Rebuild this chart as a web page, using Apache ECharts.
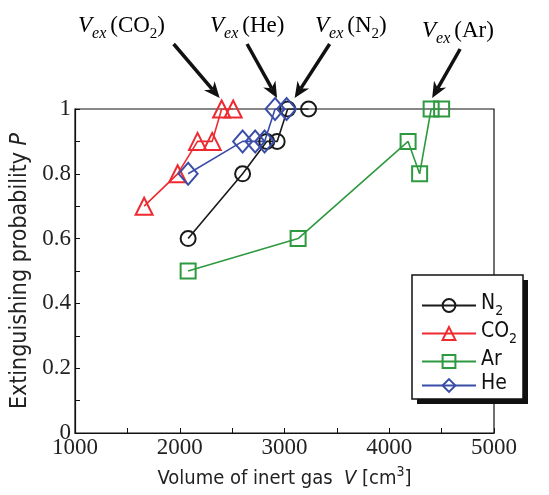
<!DOCTYPE html>
<html><head><meta charset="utf-8">
<script src="https://cdn.jsdelivr.net/npm/echarts@6/dist/echarts.min.js"></script>
<style>html,body{margin:0;padding:0;background:#fff}#c{width:549px;height:495px}</style>
</head><body><div id="c"></div>
<script>
// ---- data ----
const seriesNames = ['N2', 'CO2', 'Ar', 'He'];
const n2X = [2080, 2600, 2830, 2930, 3030, 3230];
const n2Y = [0.6, 0.8, 0.9, 0.9, 1.0, 1.0];
const co2X = [1660, 1980, 2170, 2310, 2400, 2510];
const co2Y = [0.7, 0.8, 0.9, 0.9, 1.0, 1.0];
const arX = [2080, 3130, 4180, 4290, 4400, 4500];
const arY = [0.5, 0.6, 0.9, 0.8, 1.0, 1.0];
const heX = [2080, 2600, 2720, 2810, 2910, 3020];
const heY = [0.8, 0.9, 0.9, 0.9, 1.0, 1.0];
const xTicks = [1000, 2000, 3000, 4000, 5000];
const yTicks = [0, 0.2, 0.4, 0.6, 0.8, 1];
// annotation arrows: which series / point index they point at
const annotSeries = [1, 3, 0, 2];
const annotPoint = [4, 4, 4, 4];
const annotGas = ['CO', 'He', 'N', 'Ar'];
const annotSub = ['2', '', '2', ''];

const colors = ['#1a1a1a', '#ee2a30', '#2e9a40', '#3a4ea8'];
const labelColors = ['#ee2a30', '#3a4ea8', '#333333', '#5b7a3b'];
const symbols = ['circle', 'triangle', 'rect', 'diamond'];
const symbolSizes = [15, 17, 15, [19, 22]];
const xs = [n2X, co2X, arX, heX];
const ys = [n2Y, co2Y, arY, heY];

const serif = "'Liberation Serif','Times New Roman',serif";
const narrow = "'DejaVu Sans Condensed','Liberation Sans Narrow','Arial Narrow','Liberation Sans',sans-serif";

const chart = echarts.init(document.getElementById('c'), null, {renderer: 'canvas'});

const series = seriesNames.map((n, i) => ({
  name: n, type: 'line', data: xs[i].map((x, k) => [x, ys[i][k]]),
  symbol: symbols[i], symbolSize: symbolSizes[i],
  lineStyle: {color: colors[i], width: 1.6},
  itemStyle: {color: 'rgba(255,255,255,0)', borderColor: colors[i], borderWidth: 2},
  emphasis: {disabled: true}, z: 3
}));

const subMap = {N2: ['N', '2'], CO2: ['CO', '2'], Ar: ['Ar', ''], He: ['He', '']};

chart.setOption({
  animation: false,
  grid: {left: 75, right: 55, top: 109, bottom: 62, show: true, borderColor: '#111', borderWidth: 1.2, backgroundColor: 'transparent'},
  xAxis: {
    type: 'value', min: xTicks[0], max: xTicks[xTicks.length - 1], interval: xTicks[1] - xTicks[0],
    axisLine: {lineStyle: {color: '#111', width: 1.2}},
    axisTick: {inside: true, length: 5, lineStyle: {color: '#111'}},
    minorTick: {show: true, splitNumber: 2, length: 5, lineStyle: {color: '#111'}},
    splitLine: {show: false},
    axisLabel: {fontFamily: serif, fontSize: 23, color: '#222', margin: 3, formatter: v => String(v)},
    name: '{t|Volume of inert gas  }{i|V}{t| [cm}{p|3}{t|]}',
    nameLocation: 'middle', nameGap: 32,
    nameTextStyle: {rich: {
      t: {fontFamily: narrow, fontSize: 20, color: '#222', verticalAlign: 'bottom', padding: [0, 0, 0, 0]},
      i: {fontFamily: narrow, fontSize: 20, fontStyle: 'italic', color: '#222', verticalAlign: 'bottom'},
      p: {fontFamily: narrow, fontSize: 14, color: '#222', verticalAlign: 'bottom', padding: [0, 0, 10, 0]}
    }}
  },
  yAxis: {
    type: 'value', min: yTicks[0], max: yTicks[yTicks.length - 1], interval: yTicks[1] - yTicks[0],
    axisLine: {lineStyle: {color: '#111', width: 1.2}},
    axisTick: {inside: true, length: 5, lineStyle: {color: '#111'}},
    minorTick: {show: true, splitNumber: 2, length: 5, lineStyle: {color: '#111'}},
    splitLine: {show: false},
    axisLabel: {fontFamily: serif, fontSize: 23, color: '#222', margin: 4, formatter: v => String(v)},
    name: '{t|Extinguishing probability }{i|P}',
    nameLocation: 'middle', nameGap: 40, nameRotate: 90,
    nameTextStyle: {rich: {
      t: {fontFamily: narrow, fontSize: 23, color: '#222'},
      i: {fontFamily: narrow, fontSize: 23, fontStyle: 'italic', color: '#222'}
    }}
  },
  legend: {
    orient: 'vertical', left: 412, top: 275, data: seriesNames, z: 20,
    backgroundColor: 'transparent', borderWidth: 0,
    padding: [18, 8, 10, 9], itemGap: 3, itemWidth: 54, itemHeight: 16,
    formatter: n => '{a|' + subMap[n][0] + '}' + (subMap[n][1] ? '{s|' + subMap[n][1] + '}' : ''),
    textStyle: {fontFamily: narrow, fontSize: 21, color: '#111', rich: {
      a: {fontFamily: narrow, fontSize: 21, color: '#111', verticalAlign: 'bottom', padding: [0, 0, 4, 0]},
      s: {fontFamily: narrow, fontSize: 14, color: '#111', verticalAlign: 'bottom', padding: [0, 0, 0, 0]}
    }}
  },
  series: series
});

// ---- legend frame with hard shadow ----
const graphics = [
  {type: 'rect', shape: {x: 417, y: 280, width: 111, height: 124}, style: {fill: '#111'}, z: 15},
  {type: 'rect', shape: {x: 412, y: 275, width: 111, height: 124}, style: {fill: '#fff', stroke: '#111', lineWidth: 1.5}, z: 16}
];

// ---- annotation arrows and labels ----
const textPos = [[78, 14], [210, 14], [315, 14], [422, 19]];
const startOff = [[-46, -54], [-30, -54], [35, -54], [28, -49]];
const tipOff = [[-2, -11], [2, -11], [7, -11], [1, -11]];
annotSeries.forEach((si, a) => {
  const p = chart.convertToPixel({gridIndex: 0}, [xs[si][annotPoint[a]], ys[si][annotPoint[a]]]);
  const T = [p[0] + tipOff[a][0], p[1] + tipOff[a][1]];
  const S = [T[0] + startOff[a][0], T[1] + startOff[a][1]];
  const dx = T[0] - S[0], dy = T[1] - S[1], len = Math.hypot(dx, dy);
  const ux = dx / len, uy = dy / len, px = -uy, py = ux;
  const L = 16, W = 7;
  const B = [T[0] - L * ux, T[1] - L * uy];
  const N = [T[0] - 0.7 * L * ux, T[1] - 0.7 * L * uy];
  graphics.push({type: 'line', shape: {x1: S[0], y1: S[1], x2: N[0], y2: N[1]}, style: {stroke: '#111', lineWidth: 3.5}, z: 10});
  graphics.push({type: 'polygon', shape: {points: [T, [B[0] + W * px, B[1] + W * py], N, [B[0] - W * px, B[1] - W * py]]}, style: {fill: '#111'}, z: 10});
  const c = labelColors[a];
  const rich = {
    v: {fontFamily: serif, fontSize: 23, fontStyle: 'italic', color: c, verticalAlign: 'bottom', padding: [0, 0, 5, 0]},
    e: {fontFamily: serif, fontSize: 16, fontStyle: 'italic', color: c, verticalAlign: 'bottom', padding: [0, 4, 0, 0]},
    t: {fontFamily: serif, fontSize: 23, color: c, verticalAlign: 'bottom', padding: [0, 0, 5, 0]},
    s: {fontFamily: serif, fontSize: 15, color: c, verticalAlign: 'bottom', padding: [0, 0, 0, 0]}
  };
  let txt = '{v|V}{e|ex}{t|(' + annotGas[a] + '}';
  if (annotSub[a]) txt += '{s|' + annotSub[a] + '}';
  txt += '{t|)}';
  graphics.push({type: 'text', left: textPos[a][0], top: textPos[a][1], style: {text: txt, rich: rich}, z: 10});
});
chart.setOption({graphic: graphics});
</script></body></html>
